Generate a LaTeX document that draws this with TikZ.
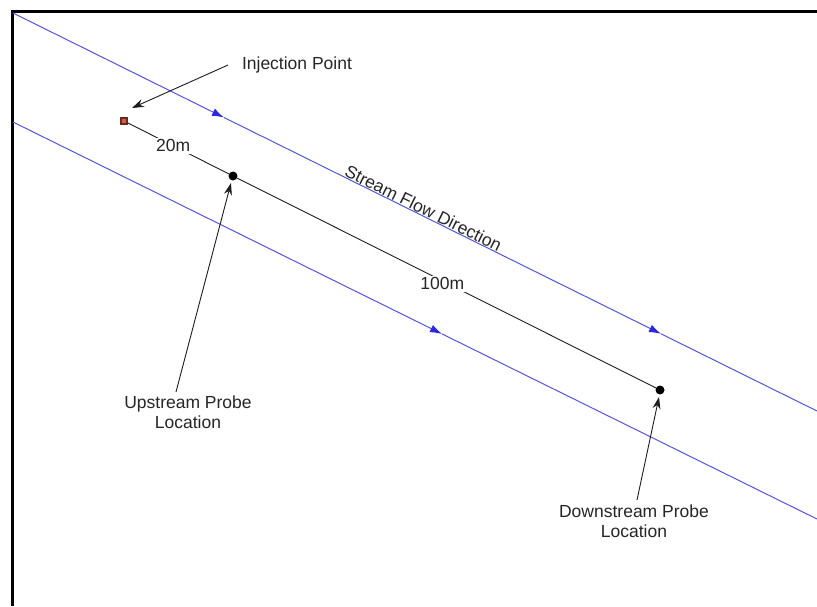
\documentclass[tikz,border=0pt]{standalone}
\usepackage{fontspec}
\setmainfont{Liberation Sans}
\usetikzlibrary{arrows.meta}
\definecolor{flowblue}{RGB}{85,85,215}
\definecolor{tipblue}{RGB}{40,40,225}
\definecolor{injfill}{RGB}{205,95,75}
\definecolor{injdraw}{RGB}{110,40,30}
\definecolor{linegray}{RGB}{30,30,30}
\begin{document}
\begin{tikzpicture}[x=1pt,y=-1pt,
  font=\fontsize{17.5}{20}\selectfont,
  flow/.style={draw=flowblue, line width=1pt},
  flowtip/.style={flow, -{Latex[length=12pt,width=8pt,fill=tipblue,color=tipblue]}},
  pointer/.style={draw=linegray, line width=0.9pt, -{Stealth[length=12pt,width=8pt]}},
  dist/.style={draw=linegray, line width=0.9pt},
  probe/.style={circle, fill=black, inner sep=0pt, minimum size=9pt},
  lbl/.style={inner sep=0pt, align=center, text=black!85},
  dlbl/.style={fill=white, inner sep=2pt, text=black!85}]
\useasboundingbox (0,0) rectangle (817,606);
\fill[white] (0,0) rectangle (817,606);
% frame
\draw[line width=3pt, black] (12,606) -- (12,11) -- (817,11);
% stream banks
\coordinate (u0) at (13,13);
\coordinate (u1) at (224,117.5);
\coordinate (u2) at (661,333.8);
\coordinate (u3) at (817,411);
\coordinate (l0) at (13,122);
\coordinate (l1) at (442,333.9);
\coordinate (l2) at (817,519);
\draw[flowtip] (u0) -- (u1);
\draw[flowtip] (u1) -- (u2);
\draw[flow] (u2) -- (u3);
\draw[flowtip] (l0) -- (l1);
\draw[flow] (l1) -- (l2);
% stream label
\node[lbl, anchor=base, rotate=-26.3] (sfd) at (420.8,213.8) {Stream Flow Direction};
% points
\node[draw=injdraw, fill=injfill, line width=1.2pt, inner sep=0pt, minimum size=6pt] (inj) at (124,121) {};
\node[probe] (up) at (233,176) {};
\node[probe] (down) at (660,390) {};
% distances
\draw[dist] (inj) -- node[dlbl, pos=0.45] (d20) {20m} (up);
\draw[dist] (up) -- node[dlbl, pos=0.49, yshift=-3pt] (d100) {100m} (down);
% labels
\node[lbl] (injlbl) at (297,65) {Injection Point};
\node[lbl] (uplbl) at (188,412) {Upstream Probe\\Location};
\node[lbl] (downlbl) at (634,521) {Downstream Probe\\Location};
% pointers
\coordinate (injA) at (228,65);
\coordinate (injB) at (132,108);
\coordinate (upA) at (176,392);
\coordinate (upB) at (231,183);
\coordinate (dnA) at (637,500);
\coordinate (dnB) at (659,397);
\draw[pointer] (injA) -- (injB);
\draw[pointer] (upA) -- (upB);
\draw[pointer] (dnA) -- (dnB);
\end{tikzpicture}
\end{document}
